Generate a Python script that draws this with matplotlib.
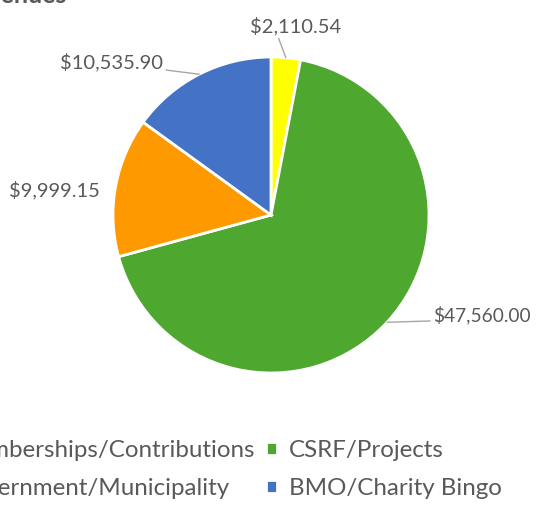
import numpy as np
import matplotlib
matplotlib.use("Agg")
import matplotlib.pyplot as plt

plt.rcParams['font.family'] = ['Lato', 'DejaVu Sans']

# Revenue data (clockwise from top)
categories = ["Memberships/Contributions", "CSRF/Projects",
              "Government/Municipality", "BMO/Charity Bingo"]
amounts = [2110.54, 47560.00, 9999.15, 10535.90]
colors = ["#FFFF00", "#4EA72E", "#FF9900", "#4472C4"]

W, H = 536, 512
text_col = "#595959"

fig = plt.figure(figsize=(W / 100, H / 100), dpi=100)
ax = fig.add_axes([0, 0, 1, 1])

cx, cy, r = 271, H - 215, 158
wedges, _ = ax.pie(amounts, colors=colors, startangle=90, counterclock=False,
                   center=(cx, cy), radius=r,
                   wedgeprops=dict(edgecolor="white", linewidth=2))
ax.set_xlim(0, W)
ax.set_ylim(0, H)
ax.set_aspect("equal")
ax.axis("off")

# label offsets in pixels from the wedge edge point (layout only)
# (dx, dy, ha, va, leader line, relpos of line on text)
offsets = [(10, 22, "center", "bottom", True, (0.3, 0)),
           (46, 7, "left", "center", True, (0, 0.2)),
           (-16, -3, "right", "center", False, None),
           (-36, 12, "right", "center", True, (1, 0.1))]
sizes = [14.5, 13.8, 14.5, 14.5]

for w, val, fs, (ox, oy, ha, va, line, rel) in zip(wedges, amounts, sizes, offsets):
    mid = np.deg2rad((w.theta1 + w.theta2) / 2)
    ex, ey = cx + r * np.cos(mid), cy + r * np.sin(mid)
    label = "${:,.2f}".format(val)
    if line:
        ax.annotate(label, xy=(ex, ey), xytext=(ox, oy), textcoords="offset pixels",
                    ha=ha, va=va, fontsize=fs, color=text_col,
                    arrowprops=dict(arrowstyle="-", color="#A6A6A6", lw=1,
                                    shrinkA=0, shrinkB=0, relpos=rel))
    else:
        ax.annotate(label, xy=(ex, ey), xytext=(ox, oy), textcoords="offset pixels",
                    ha=ha, va=va, fontsize=fs, color=text_col)

# title, mostly cropped at the top
ax.text(66, H - 3, "Revenues", ha="right", va="baseline", fontsize=18,
        fontweight="bold", color=text_col)

order = [0, 2, 1, 3]
ax.legend([wedges[i] for i in order], [categories[i] for i in order],
          ncol=2, loc="upper left", bbox_to_anchor=(-90, H - 418),
          bbox_transform=ax.transData, frameon=False, fontsize=17.4,
          labelcolor=text_col, handlelength=0.45, handleheight=0.45,
          handletextpad=0.5, columnspacing=0.45, labelspacing=0.72)

fig.savefig("out.png", dpi=100)
